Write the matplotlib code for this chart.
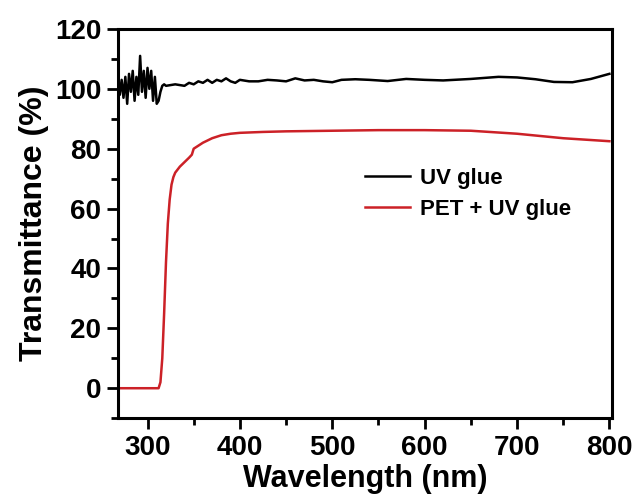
import matplotlib
matplotlib.use("Agg")
import matplotlib.pyplot as plt
from matplotlib.ticker import MultipleLocator

plt.rcParams['font.family'] = ['Liberation Sans', 'DejaVu Sans']
plt.rcParams['font.weight'] = 'bold'

# UV glue (black)
wl_glue = [268, 270, 272, 274, 276, 278, 280, 282, 284, 286, 288, 290, 292, 294,
           296, 298, 300, 302, 304, 306, 308, 310, 312, 314, 316, 318, 320, 330,
           340, 345, 350, 355, 360, 365, 370, 375, 380, 385, 390, 395, 400, 410,
           420, 430, 440, 450, 460, 470, 480, 490, 500, 510, 525, 540, 560, 580,
           600, 620, 650, 680, 700, 720, 740, 760, 780, 800]
t_glue = [100, 98, 103, 97, 104, 95, 105, 99, 106, 96, 104, 98, 111, 99,
          106, 97, 107, 100, 106, 96, 104, 95, 96, 99, 101, 101.5, 101, 101.5,
          101, 102, 101.5, 102.5, 102, 103, 102, 103, 102.5, 103.5, 102.5, 102, 103, 102.5,
          102.5, 103, 102.8, 102.5, 103.5, 102.8, 103, 102.5, 102.2, 103, 103.2, 103, 102.6, 103.3,
          103, 102.8, 103.3, 104, 103.8, 103.2, 102.3, 102.2, 103.3, 105]

# PET + UV glue (red)
wl_pet = [268, 300, 312, 314, 316, 318, 320, 322, 324, 326, 328, 330, 335, 340,
          345, 348, 350, 355, 360, 370, 380, 390, 400, 425, 450, 500, 550, 600,
          650, 700, 750, 800]
t_pet = [0, 0, 0, 2, 10, 25, 42, 55, 63, 68, 70.5, 72, 74, 75.5,
         77, 78, 80, 81, 82, 83.5, 84.5, 85, 85.3, 85.6, 85.8, 86, 86.2, 86.2,
         86, 85, 83.5, 82.5]

fig = plt.figure(figsize=(6.41, 4.99), dpi=100)
ax = fig.add_axes([0.184, 0.162, 0.771, 0.780])

ax.plot(wl_glue, t_glue, color='black', lw=1.8, label='UV glue')
ax.plot(wl_pet, t_pet, color='#cc2127', lw=1.8, label='PET + UV glue')

ax.set_xlim(268, 803)
ax.set_ylim(-10, 120)
ax.xaxis.set_major_locator(MultipleLocator(100))
ax.xaxis.set_minor_locator(MultipleLocator(50))
ax.yaxis.set_major_locator(MultipleLocator(20))
ax.yaxis.set_minor_locator(MultipleLocator(10))
ax.tick_params(which='major', direction='out', length=8, width=2, labelsize=20, pad=4)
ax.tick_params(which='minor', direction='out', length=5, width=2)
for s in ax.spines.values():
    s.set_linewidth(2.2)
for lab in ax.get_xticklabels() + ax.get_yticklabels():
    lab.set_fontweight('bold')

ax.set_xlabel('Wavelength (nm)', fontsize=22, fontweight='bold', labelpad=2)
ax.set_ylabel('Transmittance (%)', fontsize=23, fontweight='bold', labelpad=4)

ax.legend(loc='upper left', bbox_to_anchor=(0.46, 0.695), frameon=False,
          prop={'size': 16, 'weight': 'bold'}, handlelength=2.0, handletextpad=0.45,
          labelspacing=0.45)

fig.savefig('out.png', dpi=100)
